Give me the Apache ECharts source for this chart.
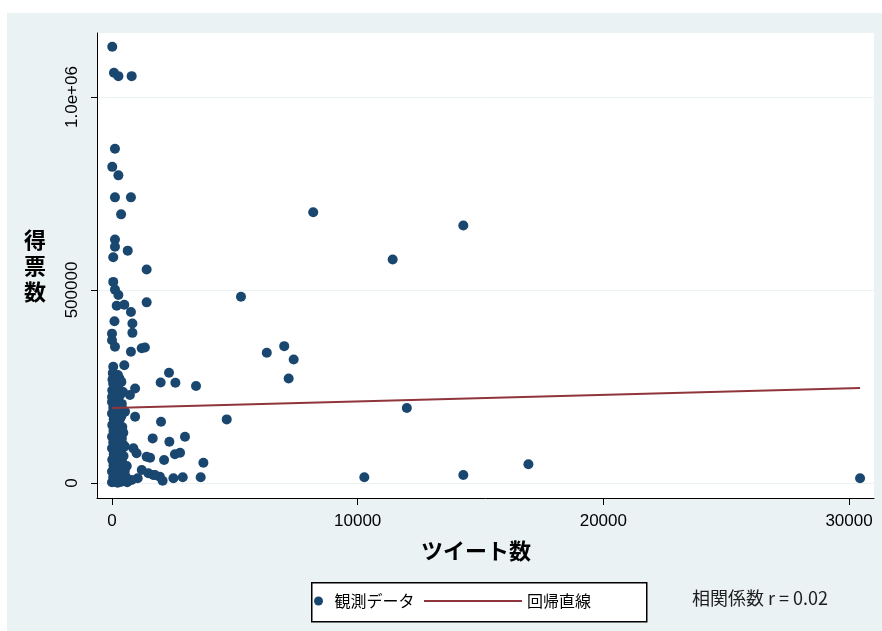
<!DOCTYPE html>
<html>
<head>
<meta charset="utf-8">
<title>得票数とツイート数</title>
<script src="https://cdn.jsdelivr.net/npm/echarts@6/dist/echarts.min.js"></script>
<style>
  html, body { margin: 0; padding: 0; background: #fff; }
  #bg { position: absolute; left: 7px; top: 13px; right: 0; bottom: 0; background: #eaf2f3; }
  #chart { position: absolute; left: 0; top: 0; width: 882px; height: 631px; }
</style>
</head>
<body>
<div id="bg"></div>
<div id="chart"></div>
<script>
// 観測データ (ツイート数, 得票数)
const tweets = [
  // 上の方
  10, 80, 260, 800, 120, 10, 260, 120, 770, 370, 120, 120, 640, 50, 1410, 50, 120, 260, 1410,
  190, 500, 770, 100, 830, 830, 0, 0, 120, 770, 1210, 1340, 50, 500, 50, 300, 50, 940, 0,
  // 右側の外れ値
  8190, 14300, 11425, 5250, 6300, 7010, 7395, 7190, 12000, 4670, 3720, 3610, 10270, 14300, 16950, 30450,
  // 近く
  2320, 1980, 2580, 3420, 1995, 1655, 2335, 2970, 1550, 2120, 2560, 2770, 1680, 1950, 2060, 2500,
  2880, 940, 870, 1000, 1410, 1210, 1480, 1750, 1045, 800, 730,
  // 密集部分
  0, 100, 230, 360, 480, 620,
  50, 180, 310, 440, 560,
  0, 130, 260, 400, 520,
  60, 190, 330, 460, 600,
  10, 140, 280, 410,
  70, 200, 340, 470,
  0, 120, 250, 380, 520,
  50, 180, 310, 440,
  0, 130, 260, 400,
  60, 190, 330, 460,
  10, 140, 280, 420,
  70, 200, 340,
  0, 120, 250, 390, 530,
  50, 180, 310, 440,
  0, 130, 260, 400,
  60, 190, 330,
  10, 140, 280, 450,
  70, 200,
  20, 160, 380,
  30, 240
];
const votes = [
  1130000, 1063000, 1054000, 1054000, 866000, 819000, 797000, 740000, 740000, 696000, 631000, 612000, 602000, 585000, 553000, 521000, 501000, 487000, 468000,
  459000, 462000, 443000, 419000, 413000, 389000, 387000, 370000, 353000, 340000, 349000, 351000, 301000, 305000, 271000, 271000, 258000, 245000, 223000,
  701500, 667000, 579000, 482300, 337300, 354600, 320100, 270900, 194100, 164800, 52600, 14700, 14700, 20700, 48400, 12200,
  285600, 260600, 259600, 251100, 158700, 115600, 107000, 119900, 65500, 59500, 74300, 78500, 20700, 16300, 6000, 12200,
  14700, 171600, 89800, 76900, 68100, 33650, 25100, 20700, 12200, 7800, 227800,
  2000, 4000, 1000, 3000, 6000, 2000,
  15000, 12000, 18000, 10000, 16000,
  30000, 27000, 33000, 25000, 31000,
  45000, 42000, 48000, 40000, 44000,
  60000, 57000, 63000, 55000,
  75000, 72000, 78000, 70000,
  90000, 87000, 93000, 85000, 95000,
  105000, 102000, 108000, 100000,
  120000, 117000, 123000, 115000,
  135000, 132000, 138000, 130000,
  150000, 147000, 153000, 145000,
  165000, 162000, 168000,
  180000, 177000, 183000, 175000, 185000,
  195000, 192000, 198000, 190000,
  210000, 207000, 213000, 205000,
  225000, 222000, 228000,
  240000, 237000, 243000, 236000,
  255000, 252000,
  268000, 265000, 262000,
  285000, 280000
];

// 回帰直線
const fitTweets = [0, 30450];
const fitVotes = [194300, 246100];

const xTicks = [0, 10000, 20000, 30000];
const yTicks = [0, 500000, 1000000];
const yTickLabels = ['0', '500000', '1.0e+06'];

const latin = "'Liberation Sans', Arial, 'Noto Sans CJK JP', sans-serif";
const cjk = "'Noto Sans CJK JP', 'Liberation Sans', sans-serif";

const chart = echarts.init(document.getElementById('chart'));

const option = {
  animation: false,
  backgroundColor: 'transparent',
  textStyle: { fontFamily: latin, color: '#000' },
  title: {
    text: '相関係数 r = 0.02',
    left: 692,
    top: 589,
    padding: 0,
    textStyle: { fontFamily: cjk, fontSize: 18, fontWeight: 'normal', color: '#1e1e1e' }
  },
  graphic: [
    {
      type: 'rect',
      left: 311,
      top: 582,
      z: -1,
      shape: { width: 335, height: 39 },
      style: { fill: '#fff', stroke: '#000', lineWidth: 1.5 }
    }
  ],
  legend: [
    {
      data: [{ name: '観測データ', icon: 'circle' }],
      left: 314,
      top: 593,
      padding: 0,
      itemWidth: 22,
      itemHeight: 9,
      textStyle: { fontFamily: cjk, fontSize: 16, color: '#000' }
    },
    {
      data: [{ name: '回帰直線', icon: 'rect' }],
      left: 424,
      top: 593,
      padding: 0,
      itemWidth: 98,
      itemHeight: 2,
      textStyle: { fontFamily: cjk, fontSize: 16, color: '#000' }
    }
  ],
  grid: {
    left: 97,
    top: 33,
    right: 8,
    bottom: 133,
    show: true,
    backgroundColor: '#fff',
    borderWidth: 0
  },
  xAxis: {
    type: 'value',
    min: -611,
    max: 31017,
    name: 'ツイート数',
    nameLocation: 'middle',
    nameGap: 42,
    nameTextStyle: { fontFamily: cjk, fontSize: 22, fontWeight: 'bold', color: '#000', padding: [0, 19, 0, 0] },
    axisLine: { onZero: false, lineStyle: { color: '#000', width: 1 } },
    axisTick: { customValues: xTicks, length: 7, lineStyle: { color: '#000' } },
    axisLabel: { customValues: xTicks, margin: 15, fontSize: 17, color: '#000', formatter: v => String(v) },
    splitLine: { show: false }
  },
  yAxis: {
    type: 'value',
    min: -38830,
    max: 1165800,
    name: '得\n票\n数',
    nameLocation: 'middle',
    nameRotate: 0,
    nameGap: 51,
    nameTextStyle: { fontFamily: cjk, fontSize: 22, fontWeight: 'bold', color: '#000', lineHeight: 26 },
    axisLine: { onZero: false, lineStyle: { color: '#000', width: 1 } },
    axisTick: { customValues: yTicks, length: 6, lineStyle: { color: '#000' } },
    axisLabel: {
      customValues: yTicks,
      rotate: 90,
      margin: 16,
      fontSize: 17,
      color: '#000',
      formatter: v => yTickLabels[yTicks.indexOf(v)] ?? String(v)
    },
    splitLine: { show: true, lineStyle: { color: '#eaf2f3', width: 1 } }
  },
  series: [
    {
      name: '観測データ',
      type: 'scatter',
      symbol: 'circle',
      symbolSize: 10,
      itemStyle: { color: '#1a476f', opacity: 1 },
      data: tweets.map((t, i) => [t, votes[i]])
    },
    {
      name: '回帰直線',
      type: 'line',
      symbol: 'none',
      lineStyle: { color: '#90353b', width: 2 },
      itemStyle: { color: '#90353b' },
      data: fitTweets.map((t, i) => [t, fitVotes[i]])
    }
  ]
};

chart.setOption(option);
</script>
</body>
</html>
